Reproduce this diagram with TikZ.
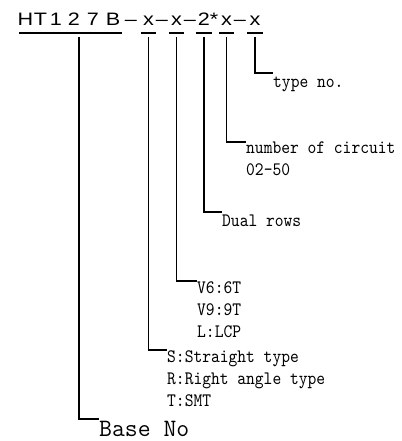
\documentclass[tikz,border=0pt]{standalone}
\usepackage{fontspec}
\newfontfamily\titlefont[FakeStretch=1.2]{Liberation Sans}
\newfontfamily\infofont[FakeStretch=0.88]{lmmono10-regular.otf}

\begin{document}
\begin{tikzpicture}[x=1pt, y=-1pt]
	\tikzstyle{part} = [inner sep=0pt, anchor=base, font=\titlefont\fontsize{18}{22}\selectfont]
	\tikzstyle{info} = [inner sep=0pt, anchor=north west, align=left, execute at begin node={\rule{0pt}{14pt}}, font=\infofont\fontsize{19}{22}\selectfont]
	\tikzstyle{lead} = [line width=1.6pt]

	\useasboundingbox (0,0) rectangle (401,441);

	% part number, one glyph per node
	\foreach \name/\text/\x in {h/H/25.5, t/T/40.5, one/1/56, two/2/74, seven/7/93, b/B/113,
			d1/\textendash/131, x1/x/148.5, d2/\textendash/162, x2/x/176.5, d3/\textendash/190,
			rows2/2/204, star/*/214, x3/x/226.5, d4/\textendash/240, x4/x/255}
		\node[part] (\name) at (\x, 26) {\text};

	% underlines
	\draw[line width=1.3pt] ([shift={(1.5,7)}]h.base west) -- ([shift={(1.5,7)}]b.base east);
	\foreach \n in {x1, x2, rows2, x3, x4}
		\draw[line width=1.3pt] ([shift={(-2,7)}]\n.base west) -- ([shift={(2,7)}]\n.base east);

	\node[info] (type) at (273, 73) {type no.};
	\node[info] (circ) at (246, 142) {number of circuit\\02-50};
	\node[info] (rows) at (222, 212) {Dual rows};
	\node[info] (pins) at (197, 281) {V6:6T\\V9:9T\\L:LCP};
	\node[info] (form) at (167, 350) {S:Straight type\\R:Right angle type\\T:SMT};
	\node[info, execute at begin node={\rule{0pt}{17pt}}, text depth=0pt, font=\ttfamily\fontsize{25}{30}\selectfont] (baseno) at (99, 419) {Base No};

	\foreach \from/\to in {x4/type, x3/circ, rows2/rows, x2/pins, x1/form}
		\draw[lead] ([shift={(0,11)}]\from.base) |- (\to.north west);
	\draw[lead] ([shift={(5,11)}]two.base) |- (baseno.north west);

\end{tikzpicture}
\end{document}
